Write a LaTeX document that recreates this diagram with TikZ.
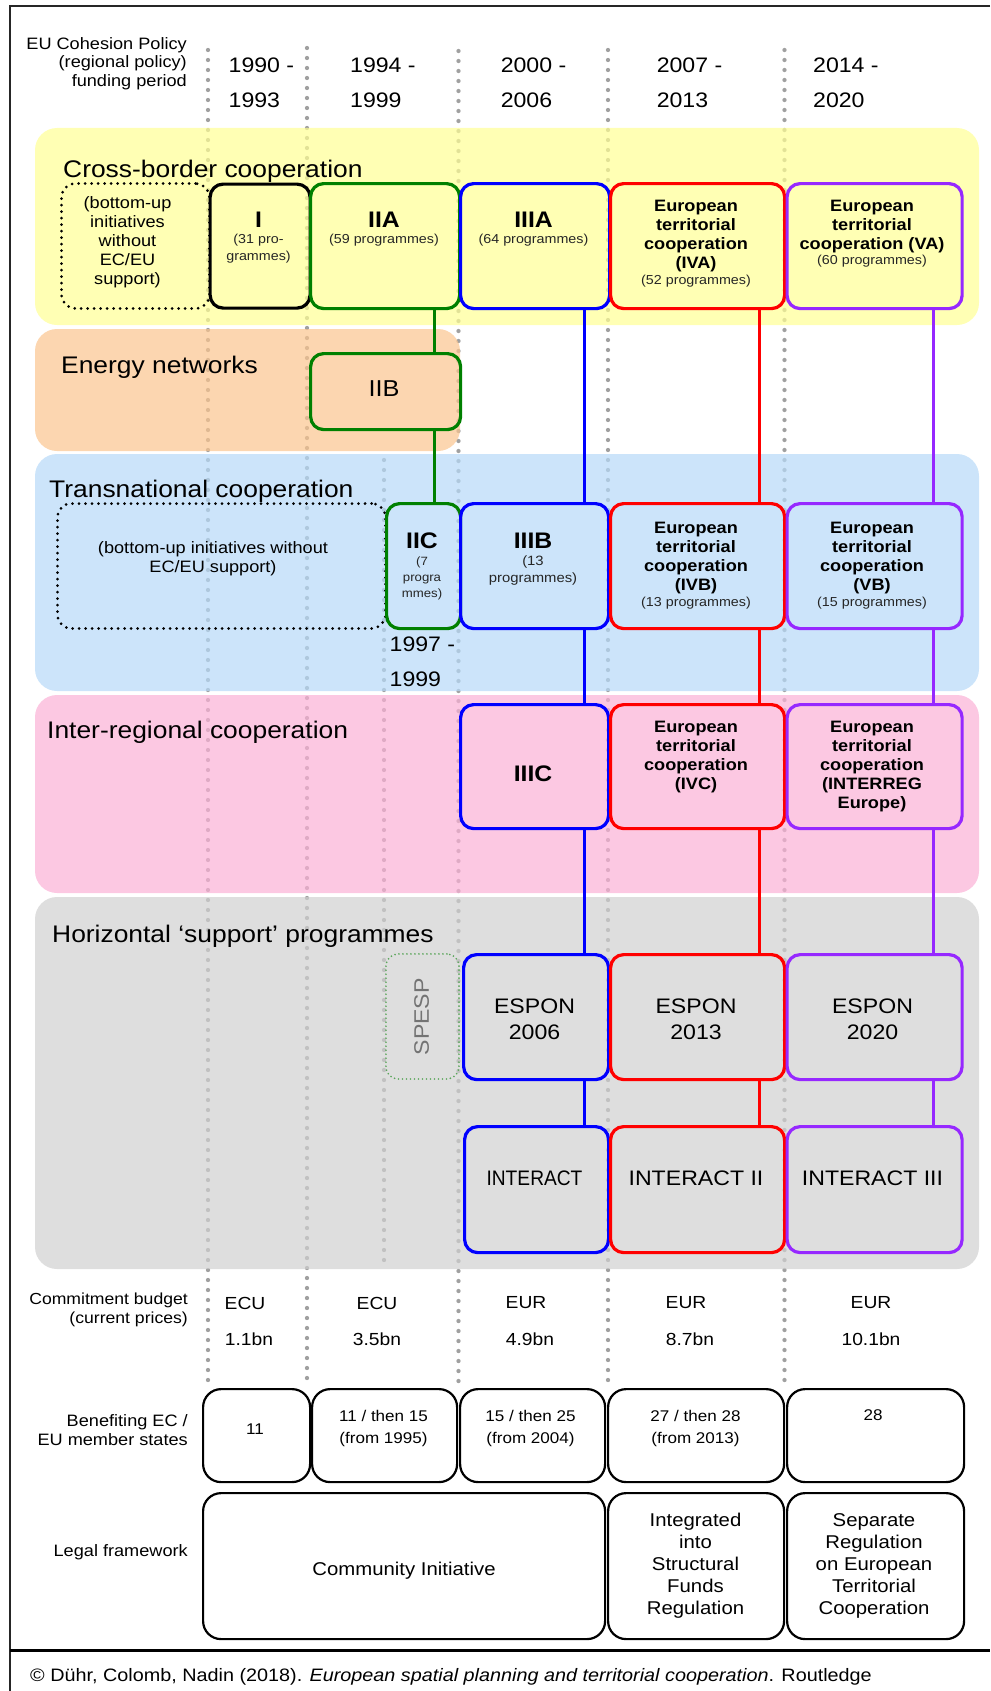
\documentclass[tikz,border=0pt]{standalone}
\usepackage{graphicx}
\usepackage{fontspec}
\setmainfont[FakeStretch=1.1]{Liberation Sans}
\newcommand\myfs[2]{\fontsize{#1}{#2}\selectfont}
\definecolor{ecgreen}{RGB}{0,128,0}
\definecolor{ecblue}{RGB}{0,0,255}
\definecolor{ecred}{RGB}{255,0,0}
\definecolor{ecpurple}{RGB}{150,40,255}
\definecolor{dotgrey}{RGB}{160,160,160}
\definecolor{bandyellow}{RGB}{255,255,148}
\definecolor{bandorange}{RGB}{251,197,142}
\definecolor{bandblue}{RGB}{182,217,248}
\definecolor{bandpink}{RGB}{251,177,214}
\definecolor{bandgrey}{RGB}{208,208,208}
\definecolor{spespgreen}{RGB}{90,165,90}
\begin{document}
\begin{tikzpicture}[x=1pt,y=-1pt,
  dotline/.style={draw=dotgrey, line width=4.3pt, line cap=round, dash pattern=on 0pt off 10pt},
  band/.style={fill opacity=0.7, rounded corners=22pt},
  pbox/.style={draw=#1, line width=3.2pt, rounded corners=13pt, inner sep=0pt, anchor=north west},
  dbox/.style={draw=black, line width=3pt, line cap=round, dash pattern=on 0pt off 6.5pt, rounded corners=14pt, inner sep=0pt, anchor=north west},
  sbox/.style={draw=spespgreen, line width=1.9pt, line cap=round, dash pattern=on 0pt off 4pt, rounded corners=12pt, inner sep=0pt, anchor=north west},
  kbox/.style={draw=black, line width=2.2pt, rounded corners=18pt, inner sep=0pt, anchor=north west},
  conn/.style={draw=#1, line width=3pt},
  txt/.style={inner sep=0pt, align=center},
  bandlabel/.style={inner sep=0pt, anchor=base west, font=\myfs{24}{28}},
  etc/.style={txt, anchor=north, font=\myfs{16.5}{19}\bfseries},
  roman/.style={txt, anchor=north, font=\myfs{13}{16.3}\color{black!85}},
  money/.style={txt, font=\myfs{17.5}{20}},
  member/.style={txt, font=\myfs{15.5}{22}},
  legal/.style={txt, font=\myfs{18.5}{22}},
  side/.style={inner sep=0pt, align=right, anchor=north east, font=\myfs{16.5}{18.5}},
  year/.style={inner sep=0pt, align=left, anchor=north west, font=\myfs{21}{35}},
]
\useasboundingbox (0,0) rectangle (990,1691);

% period separators (dotted)
\draw[dotline] (208,50) -- (208,1385);
\draw[dotline] (307,48) -- (307,1385);
\draw[dotline] (458.5,51) -- (458.5,1385);
\draw[dotline] (608,50) -- (608,1385);
\draw[dotline] (784.5,50) -- (784.5,1385);
\draw[dotline] (384,460) -- (384,1261);

% thematic bands
\fill[band, fill=bandyellow] (35,128) rectangle (979,325);
\fill[band, fill=bandorange] (35,329) rectangle (460,451);
\fill[band, fill=bandblue] (35,454) rectangle (979,691);
\fill[band, fill=bandpink] (35,695) rectangle (979,893);
\fill[band, fill=bandgrey] (35,897) rectangle (979,1269);

% header
\node[side] (hdr) at (187,37) {EU Cohesion Policy\\(regional policy)\\funding period};
\node[year] (y1) at (228.5,57.3) {1990 -\\1993};
\node[year] (y2) at (350,57.3) {1994 -\\1999};
\node[year] (y3) at (500.6,57.3) {2000 -\\2006};
\node[year] (y4) at (656.6,57.3) {2007 -\\2013};
\node[year] (y5) at (813,57.3) {2014 -\\2020};

% band labels
\node[bandlabel] (lcb) at (63,177) {Cross-border cooperation};
\node[bandlabel] (len) at (61,373) {Energy networks};
\node[bandlabel] (ltn) at (49,497) {Transnational cooperation};
\node[bandlabel] (lir) at (47,738) {Inter-regional cooperation};
\node[bandlabel] (lhz) at (52,942) {Horizontal ‘support’ programmes};

% row A: cross-border
\node[dbox, minimum width=148pt, minimum height=125pt] (dA) at (60,182) {};
\node[pbox=black, minimum width=100pt, minimum height=124pt] (I) at (208.5,182.5) {};
\node[pbox=ecgreen, minimum width=149pt, minimum height=125pt] (IIA) at (309,182) {};
\node[pbox=ecblue, minimum width=149pt, minimum height=125pt] (IIIA) at (459,182) {};
\node[pbox=ecred, minimum width=174pt, minimum height=125pt] (IVA) at (609,182) {};
\node[pbox=ecpurple, minimum width=175pt, minimum height=125pt] (VA) at (785.5,182) {};

% row B: energy
\node[pbox=ecgreen, minimum width=150pt, minimum height=76pt] (IIB) at (309,352) {};

% row C: transnational
\node[dbox, minimum width=328pt, minimum height=125pt] (dC) at (56,502) {};
\node[pbox=ecgreen, minimum width=74pt, minimum height=125pt] (IIC) at (385,502) {};
\node[pbox=ecblue, minimum width=148pt, minimum height=125pt] (IIIB) at (459,502) {};
\node[pbox=ecred, minimum width=174pt, minimum height=125pt] (IVB) at (609,502) {};
\node[pbox=ecpurple, minimum width=175pt, minimum height=125pt] (VB) at (785.5,502) {};

% row D: inter-regional
\node[pbox=ecblue, minimum width=148pt, minimum height=124pt] (IIIC) at (459,703) {};
\node[pbox=ecred, minimum width=174pt, minimum height=124pt] (IVC) at (609,703) {};
\node[pbox=ecpurple, minimum width=175pt, minimum height=124pt] (IRE) at (785.5,703) {};

% row E: ESPON
\node[sbox, minimum width=73pt, minimum height=125pt] (SPESP) at (385,953) {};
\node[pbox=ecblue, minimum width=145pt, minimum height=125pt] (ES06) at (462,953) {};
\node[pbox=ecred, minimum width=174pt, minimum height=125pt] (ES13) at (609,953) {};
\node[pbox=ecpurple, minimum width=175pt, minimum height=125pt] (ES20) at (785.5,953) {};

% row F: INTERACT
\node[pbox=ecblue, minimum width=144pt, minimum height=126pt] (IN1) at (463,1125) {};
\node[pbox=ecred, minimum width=174pt, minimum height=126pt] (IN2) at (609,1125) {};
\node[pbox=ecpurple, minimum width=175pt, minimum height=126pt] (IN3) at (785.5,1125) {};

% connectors
\coordinate (gx) at (434,0);
\coordinate (bx) at (584,0);
\coordinate (rx) at (759,0);
\coordinate (px) at (933,0);
\draw[conn=ecgreen] (IIA.south -| gx) -- (IIB.north -| gx);
\draw[conn=ecgreen] (IIB.south -| gx) -- (IIC.north -| gx);
\draw[conn=ecblue] (IIIA.south -| bx) -- (IIIB.north -| bx);
\draw[conn=ecblue] (IIIB.south -| bx) -- (IIIC.north -| bx);
\draw[conn=ecblue] (IIIC.south -| bx) -- (ES06.north -| bx);
\draw[conn=ecblue] (ES06.south -| bx) -- (IN1.north -| bx);
\draw[conn=ecred] (IVA.south -| rx) -- (IVB.north -| rx);
\draw[conn=ecred] (IVB.south -| rx) -- (IVC.north -| rx);
\draw[conn=ecred] (IVC.south -| rx) -- (ES13.north -| rx);
\draw[conn=ecred] (ES13.south -| rx) -- (IN2.north -| rx);
\draw[conn=ecpurple] (VA.south -| px) -- (VB.north -| px);
\draw[conn=ecpurple] (VB.south -| px) -- (IRE.north -| px);
\draw[conn=ecpurple] (IRE.south -| px) -- (ES20.north -| px);
\draw[conn=ecpurple] (ES20.south -| px) -- (IN3.north -| px);

% row A texts
\node[txt, font=\myfs{16.5}{19}] (tdA) at (127.5,242) {(bottom-up\\initiatives\\without\\EC/EU\\support)};
\node[roman] (tI) at (258.5,212) {{\color{black}\myfs{22.5}{16.3}\bfseries I}\\(31 pro-\\grammes)};
\node[roman] (tIIA) at (384,212) {{\color{black}\myfs{22.5}{16.3}\bfseries IIA}\\(59 programmes)};
\node[roman] (tIIIA) at (533.5,212) {{\color{black}\myfs{22.5}{16.3}\bfseries IIIA}\\(64 programmes)};
\node[etc] (tIVA) at (696,200.4) {European\\territorial\\cooperation\\(IVA)\\[-3pt]{\mdseries\myfs{13}{19}\color{black!85}(52 programmes)}};
\node[etc] (tVA) at (872,200.4) {European\\territorial\\cooperation (VA)\\[-4pt]{\mdseries\myfs{13}{19}\color{black!85}(60 programmes)}};

% row B text
\node[txt, font=\myfs{23}{26}] (tIIB) at (384,389) {IIB};

% row C texts
\node[txt, font=\myfs{16.5}{19}] (tdC) at (213,559) {(bottom-up initiatives without\\EC/EU support)};
\node[roman, font=\myfs{12}{16.3}\color{black!85}] (tIIC) at (422,533) {{\color{black}\myfs{22.5}{16.3}\bfseries IIC}\\(7\\progra\\mmes)};
\node[roman, font=\myfs{13.5}{16.8}\color{black!85}] (tIIIB) at (533,533) {{\color{black}\myfs{22.5}{16.8}\bfseries IIIB}\\(13\\programmes)};
\node[etc] (tIVB) at (696,521.5) {European\\territorial\\cooperation\\(IVB)\\[-3pt]{\mdseries\myfs{13}{19}\color{black!85}(13 programmes)}};
\node[etc] (tVB) at (872,521.5) {European\\territorial\\cooperation\\(VB)\\[-3pt]{\mdseries\myfs{13}{19}\color{black!85}(15 programmes)}};
\node[inner sep=0pt, align=left, anchor=north west, font=\myfs{21}{35}] (y97) at (389.5,636.7) {1997 -\\1999};

% row D texts
\node[txt, anchor=north, font=\myfs{22.5}{26}\bfseries] (tIIIC) at (533,766) {IIIC};
\node[etc] (tIVC) at (696,721) {European\\territorial\\cooperation\\(IVC)};
\node[etc] (tIRE) at (872,721) {European\\territorial\\cooperation\\(INTERREG\\Europe)};

% row E texts
\node[txt, rotate=90, font=\myfs{21}{24}, text=black!55] (tSP) at (421.7,1016.7) {SPESP};
\node[txt, font=\myfs{21}{26}] (tES06) at (534.5,1019.5) {ESPON\\2006};
\node[txt, font=\myfs{21}{26}] (tES13) at (696,1019.5) {ESPON\\2013};
\node[txt, font=\myfs{21}{26}] (tES20) at (872.5,1019.5) {ESPON\\2020};

% row F texts
\node[txt, font=\myfs{21}{26}] (tIN1) at (534.5,1178) {\scalebox{0.83}[1]{INTERACT}};
\node[txt, font=\myfs{21}{26}] (tIN2) at (696,1178) {INTERACT II};
\node[txt, font=\myfs{21}{26}] (tIN3) at (872.5,1178) {INTERACT III};

% budget
\node[side, font=\myfs{16}{18.7}] (lbud) at (188,1292.5) {Commitment budget\\(current prices)};
\node[money] (c1) at (245,1303) {ECU};
\node[money] (v1) at (249,1339) {1.1bn};
\node[money] (c2) at (377,1303) {ECU};
\node[money] (v2) at (377,1339) {3.5bn};
\node[money] (c3) at (526,1303) {EUR};
\node[money] (v3) at (530,1339) {4.9bn};
\node[money] (c4) at (686,1303) {EUR};
\node[money] (v4) at (690,1339) {8.7bn};
\node[money] (c5) at (871,1303) {EUR};
\node[money] (v5) at (871,1339) {10.1bn};

% member states
\node[side] (lmem) at (188,1414.8) {Benefiting EC /\\EU member states};
\node[kbox, minimum width=107pt, minimum height=93pt] (m1) at (202,1388) {};
\node[kbox, minimum width=145pt, minimum height=93pt] (m2) at (311,1388) {};
\node[kbox, minimum width=145pt, minimum height=93pt] (m3) at (459,1388) {};
\node[kbox, minimum width=176pt, minimum height=93pt] (m4) at (607,1388) {};
\node[kbox, minimum width=177pt, minimum height=93pt] (m5) at (786,1388) {};
\node[member] (tm1) at (255,1429.3) {11};
\node[member, anchor=north] (tm2) at (383.5,1410.4) {11 / then 15\\(from 1995)};
\node[member, anchor=north] (tm3) at (530.5,1410.4) {15 / then 25\\(from 2004)};
\node[member, anchor=north] (tm4) at (695.5,1410.4) {27 / then 28\\(from 2013)};
\node[member, anchor=north] (tm5) at (873,1409.6) {28};

% legal framework
\node[inner sep=0pt, anchor=base east, font=\myfs{16.5}{19}] (lleg) at (188,1556.7) {Legal framework};
\node[kbox, minimum width=402pt, minimum height=146pt] (g1) at (202,1492) {};
\node[kbox, minimum width=176pt, minimum height=146pt] (g2) at (607,1492) {};
\node[kbox, minimum width=177pt, minimum height=146pt] (g3) at (786,1492) {};
\node[legal] (tg1) at (404,1571) {Community Initiative};
\node[legal] (tg2) at (695.5,1566) {Integrated\\into\\Structural\\Funds\\Regulation};
\node[legal] (tg3) at (874,1566) {Separate\\Regulation\\on European\\Territorial\\Cooperation};

% frame and source
\draw[line width=2.2pt, black!85] (990,6) -- (10,6) -- (10,1691);
\draw[line width=3pt] (10,1650) -- (990,1650);
\node[inner sep=0pt, anchor=base west, font=\myfs{18}{22}] (src) at (30,1681.7) {© Dühr, Colomb, Nadin (2018). \textit{European spatial planning and territorial cooperation}. Routledge};
\end{tikzpicture}
\end{document}
